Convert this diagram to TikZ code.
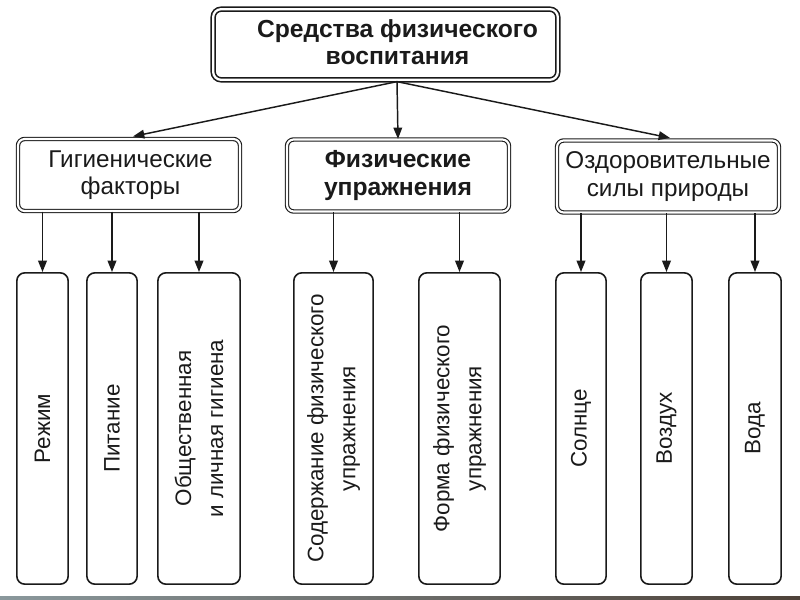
\documentclass[tikz,border=0pt]{standalone}
\usepackage{fontspec}
\setmainfont{Liberation Sans}
\usetikzlibrary{arrows.meta,calc}
\definecolor{ink}{HTML}{1A1A1A}
\definecolor{barL}{HTML}{8A989C}
\definecolor{barM}{HTML}{97A0A0}
\definecolor{barR}{HTML}{4E4239}
\begin{document}
\begin{tikzpicture}[x=0.75pt,y=-0.75pt,
  every node/.style={text=ink},
  txt/.style={font=\fontsize{18.2}{20.5}\selectfont, align=center, inner sep=0pt},
  btxt/.style={font=\bfseries\fontsize{18.5}{20.5}\selectfont, align=center, inner sep=0pt},
  vtxt/.style={font=\fontsize{16.8}{24}\selectfont, align=center, inner sep=0pt, rotate=90},
  dbox/.style={draw=ink, double=white, line width=0.85pt, double distance=1.6pt,
    rounded corners=5pt, minimum width=166.5pt, minimum height=54pt, inner sep=0pt},
  topbox/.style={draw=ink, double=white, line width=1.2pt, double distance=1.7pt,
    rounded corners=6pt, minimum width=258.5pt, minimum height=53pt, inner sep=0pt},
  leaf/.style={draw=ink, line width=1.2pt, rounded corners=6pt,
    minimum height=233.5pt, inner sep=0pt},
  arr/.style={draw=ink, line width=1.1pt, -{Triangle[length=8.5pt,width=6.5pt]}}]
\useasboundingbox (0,0) rectangle (800,600);

% top
\node[topbox] (top) at (385.5,44.5) {};
\node[btxt] (toptxt) at (397.5,42) {Средства физического\\воспитания};

% level 2
\node[dbox] (g) at (129,175) {};
\node[txt] (gt) at (130.5,175) {Гигиенические\\факторы};
\node[dbox] (f) at (398,175.5) {};
\node[btxt] (ft) at (398,175.5) {Физические\\упражнения};
\node[dbox] (o) at (668,176.5) {};
\node[txt] (ot) at (668,176.5) {Оздоровительные\\силы природы};

% level 3
\node[leaf, minimum width=38.5pt] (b1) at (42.5,428.5) {};
\node[leaf, minimum width=37.7pt] (b2) at (112,428.5) {};
\node[leaf, minimum width=61.7pt] (b3) at (199,428.5) {};
\node[leaf, minimum width=59.5pt] (b4) at (333.5,428.5) {};
\node[leaf, minimum width=61pt] (b5) at (459.5,428.5) {};
\node[leaf, minimum width=37.7pt] (b6) at (581,428.5) {};
\node[leaf, minimum width=38.5pt] (b7) at (666.5,428.5) {};
\node[leaf, minimum width=39.2pt] (b8) at (755,428.5) {};

\node[vtxt] (t1) at (b1.center) {Режим};
\node[vtxt] (t2) at (b2.center) {Питание};
\node[vtxt] (t3) at (b3.center) {Общественная\\и личная гигиена};
\node[vtxt] (t4) at (b4.center) {Содержание физического\\упражнения};
\node[vtxt] (t5) at (b5.center) {Форма физического\\упражнения};
\node[vtxt] (t6) at (b6.center) {Солнце};
\node[vtxt] (t7) at (b7.center) {Воздух};
\node[vtxt] (t8) at (b8.center) {Вода};

% connectors top -> level 2
\coordinate (s) at ($(top.south)+(11.5,1)$);
\draw[arr] (s) -- ($(g.north)+(4,-2)$);
\draw[arr] (s) -- (f.north);
\draw[arr] (s) -- ($(o.north)+(2,-2)$);

% level 2 -> level 3
\foreach \b in {b1,b2,b3} \draw[arr] (g.south -| \b.north) -- (\b.north);
\foreach \b in {b4,b5} \draw[arr] (f.south -| \b.north) -- (\b.north);
\foreach \b in {b6,b7,b8} \draw[arr] (o.south -| \b.north) -- (\b.north);

% bottom bar
\shade[left color=barL, middle color=barM, right color=barR] (0,596) rectangle (800,600);
\end{tikzpicture}
\end{document}
